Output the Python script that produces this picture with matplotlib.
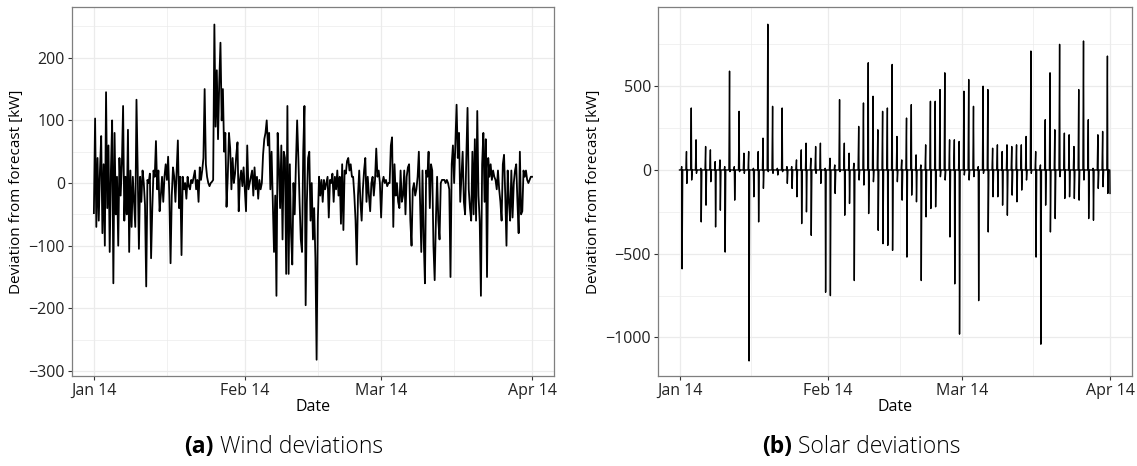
import numpy as np
import pandas as pd
import matplotlib
matplotlib.use("Agg")
import matplotlib.pyplot as plt
import matplotlib.dates as mdates
from matplotlib.ticker import MultipleLocator

plt.rcParams["font.family"] = ["Open Sans", "DejaVu Sans"]

# Wind deviation from forecast [kW], 6-hourly from 2014-01-01 00:00
wind_kw = [
    -48, 103, -70, 40, -60, 20, 75, -80, 30, -100, 145, -40,
    60, -110, 20, 100, -160, 80, -50, 10, -100, 40, -20, 30,
    123, -60, 10, -50, 85, -110, 20, -70, 10, -30, -70, 133,
    20, -105, 10, -30, 20, 0, -35, -165, 5, 0, 15, -120,
    -40, 20, 10, 67, -10, 20, -45, -20, 10, -30, 10, 30,
    5, 42, -20, -128, -20, 25, 10, -30, 20, 68, -40, 10,
    -115, 10, -10, 0, -25, 10, -5, -10, 5, 0, 10, 20,
    -10, 5, -30, 25, 5, 20, 40, 150, 30, 10, 0, -5,
    0, 2, 5, 253, 90, 180, 70, 160, 224, 100, 150, 50,
    80, -38, 10, 80, 55, -10, 40, 0, 15, 45, 65, -45,
    5, 20, -5, 25, -10, -45, 60, -10, 0, 10, 20, -20,
    25, -10, 10, -25, 5, -10, 0, 45, 70, 80, 100, 60,
    80, -10, 50, -30, -110, -20, -180, 80, 30, -40, 60, -90,
    50, 40, -145, 123, -145, 30, -80, -130, 0, -50, 30, 100,
    40, -30, -90, -110, 50, 123, -195, -30, 40, 50, -60, 0,
    -90, -40, -120, -282, -60, 10, -20, 5, -30, 5, -10, 0,
    10, -55, 5, 0, 15, -30, 10, -10, 20, -20, 10, -65,
    30, -75, 20, 15, 35, 40, 20, 30, 10, 10, -20, -60,
    -130, -20, 20, -30, -60, -10, 20, 40, -30, 10, -20, -45,
    0, 10, -20, 5, 55, 10, 20, 0, -55, 0, 10, 0,
    5, -5, 0, 0, 60, 73, -70, 30, -20, 0, -30, -40,
    20, -30, -20, 20, -50, 10, 25, 30, -60, -100, -10, 0,
    -20, -10, 10, 50, -30, -110, 20, -90, -160, 20, 10, 50,
    -40, 30, 20, -100, -155, -60, 10, -60, -90, 0, 5, 5,
    5, 0, 5, 0, -10, -150, 30, 60, 0, 60, 125, 40,
    80, -30, 10, 50, -30, -50, 40, 120, -10, -40, -60, 50,
    -50, 70, -60, 115, -20, -60, -180, 30, 80, -30, 70, -150,
    40, 10, 30, 5, 20, 10, 5, -10, 20, -10, -30, -60,
    30, 45, -20, -100, 20, -30, -60, 20, -55, 0, 20, 30,
    -30, -80, 50, -50, -45, 20, 10, 20, 5, 0, 5, 10,
    10,
]

# Solar deviation from forecast [kW]: daily midday high / low, Jan 1 .. Mar 31
solar_hi = [
    20, 110, 370, 180, 10, 140, 120, 50, 60, 20,
    590, 20, 350, 100, 110, 10, 110, 190, 870, 380,
    10, 370, 20, 20, 60, 120, 160, 70, 140, 160,
    10, 70, 30, 420, 160, 100, 40, 260, 400, 640,
    440, 240, 350, 370, 630, 200, 60, 310, 390, 90,
    30, 150, 410, 410, 480, 580, 180, 180, 170, 470,
    540, 380, 20, 500, 480, 130, 150, 110, 150, 140,
    150, 150, 200, 710, 110, 30, 300, 580, 240, 750,
    220, 210, 140, 480, 770, 300, 10, 210, 230, 680,
]
solar_lo = [
    -590, -80, -60, -20, -310, -210, -70, -340, -240, -490,
    -10, -180, -10, -20, -1140, -160, -310, -110, -10, -20,
    -30, -10, -80, -110, -160, -320, -250, -390, -20, -80,
    -730, -750, -140, -10, -270, -200, -660, -60, -90, -260,
    -70, -360, -440, -450, -480, -70, -180, -520, -150, -190,
    -660, -280, -230, -220, -40, -60, -400, -680, -980, -30,
    -60, -40, -780, -20, -370, -160, -160, -210, -270, -150,
    -190, -120, -60, -20, -520, -1040, -210, -370, -290, -40,
    -170, -160, -170, -180, -60, -290, -300, -110, -100, -140,
]
solar_last = -140  # value at 2014-04-01 00:00

wind_time = pd.date_range("2014-01-01", periods=len(wind_kw), freq="6h")

# one daylight excursion per day: flat at night, spike around noon
days = pd.date_range("2014-01-01", periods=len(solar_hi), freq="D")
solar_time, solar_kw = [pd.Timestamp("2014-01-01")], [0.0]
for d, hi, lo in zip(days, solar_hi, solar_lo):
    solar_time += [d + pd.Timedelta(hours=h) for h in (8, 11, 13, 16)]
    solar_kw += [0.0, hi, lo, 0.0]
solar_time += [pd.Timestamp("2014-03-31 23:00"), pd.Timestamp("2014-04-01")]
solar_kw += [0.0, solar_last]

GRID = "#ebebeb"
BORDER = "#7f7f7f"


def style_axes(ax, major, minor):
    ax.set_facecolor("white")
    for s in ax.spines.values():
        s.set_color(BORDER)
        s.set_linewidth(0.9)
    ax.yaxis.set_major_locator(MultipleLocator(major))
    ax.yaxis.set_minor_locator(MultipleLocator(minor))
    ax.xaxis.set_major_locator(mdates.MonthLocator())
    ax.xaxis.set_major_formatter(mdates.DateFormatter("%b %y"))
    ax.xaxis.set_minor_locator(mdates.MonthLocator(bymonthday=16))
    ax.grid(True, which="major", color=GRID, lw=0.9)
    ax.grid(True, which="minor", color=GRID, lw=0.5)
    ax.set_axisbelow(True)
    ax.tick_params(which="major", length=3, width=0.8, color="#333333",
                   labelsize=11.5, labelcolor="#222222", pad=2)
    ax.tick_params(which="minor", length=0)
    ax.set_xlabel("Date", fontsize=11.5, labelpad=0)
    ax.set_ylabel("Deviation from forecast [kW]", fontsize=11, labelpad=3)
    t0 = mdates.date2num(pd.Timestamp("2014-01-01"))
    t1 = mdates.date2num(pd.Timestamp("2014-04-01"))
    pad = (t1 - t0) * 0.05
    ax.set_xlim(t0 - pad, t1 + pad)


fig = plt.figure(figsize=(11.37, 4.66), dpi=100)
ax1 = fig.add_axes([0.0633, 0.1931, 0.4239, 0.7919])
ax2 = fig.add_axes([0.5787, 0.1931, 0.4165, 0.7919])

ax1.plot(wind_time, wind_kw, color="black", lw=1.3)
style_axes(ax1, 100, 50)
ax1.set_ylim(-308, 281)

ax2.plot(solar_time, solar_kw, color="black", lw=1.0)
style_axes(ax2, 500, 250)
ax2.set_ylim(-1230, 973)

# sub-figure captions
for x0, tag, text in [(0.162, "(a)", " Wind deviations"),
                      (0.670, "(b)", " Solar deviations")]:
    t = fig.text(x0, 0.028, tag, fontsize=16.5, fontweight="bold", va="baseline")
    fig.canvas.draw()
    ax1.annotate(text, xy=(1, 0), xycoords=t, va="bottom", ha="left",
                 fontsize=16.5, fontweight="light", annotation_clip=False)

fig.savefig("out.png", dpi=100)
